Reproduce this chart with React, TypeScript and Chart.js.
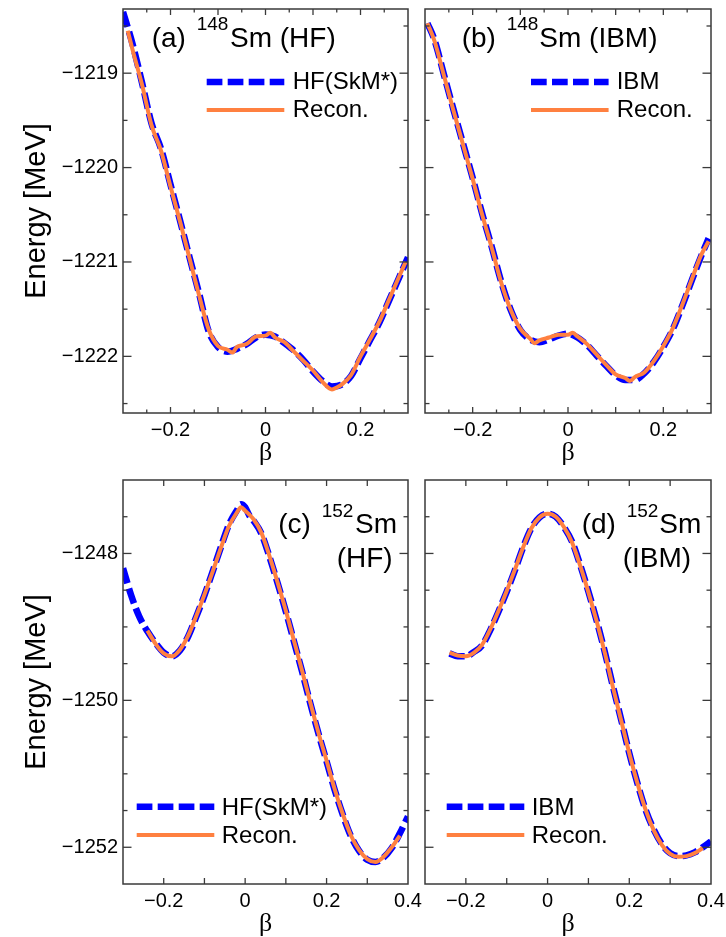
import React, { useEffect, useRef } from "react";
import { Chart, registerables } from "chart.js";
Chart.register(...registerables);

const SANS = '"Liberation Sans", Arial, Helvetica, sans-serif';
const SERIF = '"Liberation Serif", "Times New Roman", serif';
const BLUE = "#0000ff";
const ORANGE = "#ff8040";
const FRAME = "#3a3a3a";
const BLUE_WIDTH = 6.6;
const BLUE_DASH = [15.7, 5.3];
const ORANGE_WIDTH = 4;

// ---------- Panel (a): 148Sm, HF(SkM*) vs Recon. ----------
const betaA_HF = [-0.30, -0.28, -0.26, -0.24, -0.22, -0.20, -0.18, -0.16, -0.14, -0.12, -0.10, -0.08, -0.06, -0.04, -0.02, 0.00, 0.02, 0.04, 0.06, 0.08, 0.10, 0.12, 0.14, 0.16, 0.18, 0.20, 0.22, 0.24, 0.26, 0.28, 0.30];
const energyA_HF = [-1218.35, -1218.69, -1219.10, -1219.53, -1219.80, -1220.18, -1220.56, -1220.95, -1221.33, -1221.73, -1221.90, -1221.95, -1221.92, -1221.87, -1221.80, -1221.77, -1221.79, -1221.86, -1221.94, -1222.04, -1222.16, -1222.26, -1222.32, -1222.30, -1222.21, -1222.02, -1221.83, -1221.64, -1221.41, -1221.18, -1220.95];
const betaA_Rec = [-0.29, -0.28, -0.26, -0.24, -0.22, -0.20, -0.18, -0.16, -0.14, -0.12, -0.10, -0.08, -0.07, -0.06, -0.04, -0.02, 0.00, 0.01, 0.02, 0.04, 0.06, 0.08, 0.10, 0.12, 0.14, 0.15, 0.16, 0.18, 0.20, 0.22, 0.24, 0.26, 0.28, 0.295];
const energyA_Rec = [-1218.55, -1218.75, -1219.12, -1219.55, -1219.82, -1220.20, -1220.57, -1220.96, -1221.35, -1221.71, -1221.89, -1221.93, -1221.96, -1221.90, -1221.87, -1221.79, -1221.78, -1221.75, -1221.80, -1221.85, -1221.95, -1222.05, -1222.15, -1222.27, -1222.35, -1222.33, -1222.30, -1222.20, -1222.00, -1221.82, -1221.63, -1221.40, -1221.17, -1221.00];

// ---------- Panel (b): 148Sm, IBM vs Recon. ----------
const betaB_IBM = [-0.295, -0.28, -0.26, -0.24, -0.22, -0.20, -0.18, -0.16, -0.14, -0.12, -0.10, -0.08, -0.06, -0.04, -0.02, 0.00, 0.02, 0.04, 0.06, 0.08, 0.10, 0.12, 0.14, 0.16, 0.18, 0.20, 0.22, 0.24, 0.26, 0.28, 0.295];
const energyB_IBM = [-1218.47, -1218.65, -1219.02, -1219.39, -1219.75, -1220.11, -1220.49, -1220.84, -1221.21, -1221.51, -1221.72, -1221.82, -1221.85, -1221.82, -1221.78, -1221.76, -1221.80, -1221.88, -1221.99, -1222.10, -1222.20, -1222.25, -1222.25, -1222.18, -1222.06, -1221.90, -1221.71, -1221.46, -1221.19, -1220.93, -1220.75];
const betaB_Rec = [-0.295, -0.28, -0.26, -0.24, -0.22, -0.20, -0.18, -0.16, -0.14, -0.12, -0.10, -0.08, -0.07, -0.06, -0.04, -0.02, 0.00, 0.01, 0.02, 0.04, 0.06, 0.08, 0.10, 0.12, 0.13, 0.14, 0.16, 0.18, 0.20, 0.22, 0.24, 0.26, 0.28, 0.295];
const energyB_Rec = [-1218.47, -1218.66, -1219.03, -1219.40, -1219.76, -1220.12, -1220.50, -1220.85, -1221.22, -1221.51, -1221.71, -1221.81, -1221.86, -1221.83, -1221.80, -1221.77, -1221.77, -1221.75, -1221.79, -1221.87, -1221.98, -1222.09, -1222.19, -1222.23, -1222.26, -1222.22, -1222.17, -1222.05, -1221.89, -1221.70, -1221.45, -1221.18, -1220.92, -1220.78];

// ---------- Panel (c): 152Sm, HF(SkM*) vs Recon. ----------
const betaC_HF = [-0.30, -0.28, -0.26, -0.24, -0.22, -0.20, -0.18, -0.16, -0.14, -0.12, -0.10, -0.08, -0.06, -0.04, -0.02, -0.01, 0.00, 0.01, 0.02, 0.04, 0.06, 0.08, 0.10, 0.12, 0.14, 0.16, 0.18, 0.20, 0.22, 0.24, 0.26, 0.28, 0.30, 0.32, 0.34, 0.36, 0.38, 0.40];
const energyC_HF = [-1248.20, -1248.57, -1248.86, -1249.06, -1249.22, -1249.35, -1249.40, -1249.32, -1249.13, -1248.86, -1248.57, -1248.25, -1247.92, -1247.61, -1247.41, -1247.33, -1247.37, -1247.48, -1247.55, -1247.73, -1248.05, -1248.41, -1248.79, -1249.20, -1249.61, -1250.04, -1250.45, -1250.83, -1251.22, -1251.56, -1251.85, -1252.05, -1252.17, -1252.20, -1252.14, -1252.01, -1251.81, -1251.58];
const betaC_Rec = [-0.24, -0.22, -0.20, -0.18, -0.16, -0.14, -0.12, -0.10, -0.08, -0.06, -0.04, -0.02, -0.01, 0.00, 0.01, 0.02, 0.04, 0.06, 0.08, 0.10, 0.12, 0.14, 0.16, 0.18, 0.20, 0.22, 0.24, 0.26, 0.28, 0.30, 0.32, 0.34, 0.36, 0.38];
const energyC_Rec = [-1249.05, -1249.23, -1249.36, -1249.40, -1249.31, -1249.12, -1248.85, -1248.56, -1248.25, -1247.93, -1247.63, -1247.44, -1247.37, -1247.42, -1247.47, -1247.53, -1247.72, -1248.04, -1248.40, -1248.78, -1249.19, -1249.60, -1250.03, -1250.44, -1250.82, -1251.21, -1251.55, -1251.84, -1252.04, -1252.16, -1252.20, -1252.13, -1252.00, -1251.84];

// ---------- Panel (d): 152Sm, IBM vs Recon. ----------
const betaD_IBM = [-0.24, -0.22, -0.20, -0.18, -0.16, -0.14, -0.12, -0.10, -0.08, -0.06, -0.04, -0.02, 0.00, 0.02, 0.04, 0.06, 0.08, 0.10, 0.12, 0.14, 0.16, 0.18, 0.20, 0.22, 0.24, 0.26, 0.28, 0.30, 0.32, 0.34, 0.36, 0.38, 0.40];
const energyD_IBM = [-1249.36, -1249.40, -1249.40, -1249.34, -1249.25, -1249.04, -1248.79, -1248.52, -1248.23, -1247.92, -1247.66, -1247.51, -1247.46, -1247.50, -1247.64, -1247.84, -1248.16, -1248.52, -1248.91, -1249.34, -1249.81, -1250.26, -1250.72, -1251.13, -1251.49, -1251.76, -1251.96, -1252.08, -1252.12, -1252.11, -1252.07, -1252.00, -1251.92];
const betaD_Rec = [-0.24, -0.22, -0.20, -0.18, -0.16, -0.14, -0.12, -0.10, -0.08, -0.06, -0.04, -0.02, 0.00, 0.02, 0.04, 0.06, 0.08, 0.10, 0.12, 0.14, 0.16, 0.18, 0.20, 0.22, 0.24, 0.26, 0.28, 0.30, 0.32, 0.34, 0.36, 0.38];
const energyD_Rec = [-1249.35, -1249.39, -1249.40, -1249.35, -1249.24, -1249.03, -1248.78, -1248.51, -1248.22, -1247.92, -1247.66, -1247.51, -1247.46, -1247.50, -1247.64, -1247.85, -1248.17, -1248.53, -1248.92, -1249.35, -1249.82, -1250.27, -1250.72, -1251.13, -1251.49, -1251.77, -1251.97, -1252.09, -1252.13, -1252.12, -1252.08, -1252.01];

// ---------- Axis ticks ----------
const xLabelsTop = [-0.2, 0, 0.2];
const xMajorTop = [-0.2, -0.1, 0, 0.1, 0.2];
const xMinorTop = [-0.25, -0.15, -0.05, 0.05, 0.15, 0.25];
const xLabelsBottom = [-0.2, 0, 0.2, 0.4];
const xMajorBottom = [-0.2, -0.1, 0, 0.1, 0.2, 0.3];
const xMinorBottom: number[] = [];
const yLabelsTop = [-1222, -1221, -1220, -1219];
const yMinorTop = [-1222.5, -1221.5, -1220.5, -1219.5, -1218.5];
const yLabelsBottom = [-1252, -1250, -1248];
const yMinorBottom = [-1251.5, -1251, -1250.5, -1249.5, -1249, -1248.5, -1247.5];

function fmt(v: number): string {
  const r = Math.round(v * 1000) / 1000;
  if (r === 0) return "0";
  return r < 0 ? "\u2212" + String(Math.abs(r)) : String(r);
}

type TextItem = { text: string; x: number; y: number; size: number };
type PanelDef = {
  id: string;
  box: { left: number; top: number; width: number; height: number };
  plot: { left: number; top: number; right: number; bottom: number };
  xMin: number; xMax: number; yMin: number; yMax: number;
  xLabels: number[]; xMajor: number[]; xMinor: number[];
  yLabels: number[]; yMinor: number[];
  showY: boolean;
  betaPad: number;
  refLabel: string;
  refBeta: number[]; refEnergy: number[];
  recBeta: number[]; recEnergy: number[];
  legend: { x1: number; x2: number; yRef: number; yRec: number; textX: number; dy: number };
  texts: TextItem[];
};

const panels: PanelDef[] = [
  {
    id: "a",
    box: { left: 0, top: 0, width: 428, height: 472 },
    plot: { left: 123, top: 9, right: 408, bottom: 413 },
    xMin: -0.3, xMax: 0.3, yMin: -1222.6, yMax: -1218.32,
    xLabels: xLabelsTop, xMajor: xMajorTop, xMinor: xMinorTop,
    yLabels: yLabelsTop, yMinor: yMinorTop,
    showY: true, betaPad: 6,
    refLabel: "HF(SkM*)",
    refBeta: betaA_HF, refEnergy: energyA_HF, recBeta: betaA_Rec, recEnergy: energyA_Rec,
    legend: { x1: 206.7, x2: 284.3, yRef: 82, yRec: 110, textX: 292.7, dy: 7.2 },
    texts: [
      { text: "(a)", x: 151.7, y: 46.7, size: 28 },
      { text: "148", x: 196.7, y: 30.3, size: 19 },
      { text: "Sm (HF)", x: 230, y: 46.7, size: 28 },
    ],
  },
  {
    id: "b",
    box: { left: 415, top: 0, width: 311, height: 472 },
    plot: { left: 425, top: 9, right: 711, bottom: 413 },
    xMin: -0.3, xMax: 0.3, yMin: -1222.6, yMax: -1218.32,
    xLabels: xLabelsTop, xMajor: xMajorTop, xMinor: xMinorTop,
    yLabels: yLabelsTop, yMinor: yMinorTop,
    showY: false, betaPad: 6,
    refLabel: "IBM",
    refBeta: betaB_IBM, refEnergy: energyB_IBM, recBeta: betaB_Rec, recEnergy: energyB_Rec,
    legend: { x1: 531, x2: 608.6, yRef: 82, yRec: 110, textX: 616.7, dy: 7.2 },
    texts: [
      { text: "(b)", x: 461.7, y: 46.7, size: 28 },
      { text: "148", x: 506.7, y: 30.3, size: 19 },
      { text: "Sm (IBM)", x: 539.3, y: 46.7, size: 28 },
    ],
  },
  {
    id: "c",
    box: { left: 0, top: 470, width: 428, height: 467 },
    plot: { left: 123, top: 480, right: 408, bottom: 884 },
    xMin: -0.3, xMax: 0.4, yMin: -1252.5, yMax: -1247.0,
    xLabels: xLabelsBottom, xMajor: xMajorBottom, xMinor: xMinorBottom,
    yLabels: yLabelsBottom, yMinor: yMinorBottom,
    showY: true, betaPad: 0,
    refLabel: "HF(SkM*)",
    refBeta: betaC_HF, refEnergy: energyC_HF, recBeta: betaC_Rec, recEnergy: energyC_Rec,
    legend: { x1: 136.7, x2: 214.3, yRef: 806.7, yRec: 835, textX: 221.7, dy: 8.2 },
    texts: [
      { text: "(c)", x: 278.3, y: 533.3, size: 28 },
      { text: "152", x: 321.7, y: 517, size: 19 },
      { text: "Sm", x: 355, y: 533.3, size: 28 },
      { text: "(HF)", x: 336.7, y: 566.7, size: 28 },
    ],
  },
  {
    id: "d",
    box: { left: 415, top: 470, width: 311, height: 467 },
    plot: { left: 425, top: 480, right: 711, bottom: 884 },
    xMin: -0.3, xMax: 0.4, yMin: -1252.5, yMax: -1247.0,
    xLabels: xLabelsBottom, xMajor: xMajorBottom, xMinor: xMinorBottom,
    yLabels: yLabelsBottom, yMinor: yMinorBottom,
    showY: false, betaPad: 0,
    refLabel: "IBM",
    refBeta: betaD_IBM, refEnergy: energyD_IBM, recBeta: betaD_Rec, recEnergy: energyD_Rec,
    legend: { x1: 446.7, x2: 524.3, yRef: 806.7, yRec: 835, textX: 531.7, dy: 8.2 },
    texts: [
      { text: "(d)", x: 581.7, y: 533.3, size: 28 },
      { text: "152", x: 626.7, y: 517, size: 19 },
      { text: "Sm", x: 659.3, y: 533.3, size: 28 },
      { text: "(IBM)", x: 622.7, y: 566.7, size: 28 },
    ],
  },
];

function Panel({ p }: { p: PanelDef }) {
  const ref = useRef<HTMLCanvasElement>(null);
  useEffect(() => {
    const canvas = ref.current;
    if (!canvas) return;
    const { box, plot } = p;

    const decor = {
      id: "decor_" + p.id,
      afterDraw(chart: any) {
        const { ctx, chartArea: ca, scales } = chart;
        const xs = scales.x;
        const ys = scales.y;
        ctx.save();
        ctx.strokeStyle = FRAME;
        ctx.lineWidth = 1.3;
        ctx.setLineDash([]);
        const seg = (x1: number, y1: number, x2: number, y2: number) => {
          ctx.beginPath();
          ctx.moveTo(x1, y1);
          ctx.lineTo(x2, y2);
          ctx.stroke();
        };
        const xt = (vals: number[], len: number) => {
          vals.forEach((v) => {
            const px = xs.getPixelForValue(v);
            seg(px, ca.bottom, px, ca.bottom - len);
            seg(px, ca.top, px, ca.top + len);
          });
        };
        const yt = (vals: number[], len: number) => {
          vals.forEach((v) => {
            const py = ys.getPixelForValue(v);
            seg(ca.left, py, ca.left + len, py);
            seg(ca.right, py, ca.right - len, py);
          });
        };
        xt(p.xMajor, 6);
        xt(p.xMinor, 3.5);
        yt(p.yLabels, 8.5);
        yt(p.yMinor, 4.5);
        ctx.lineWidth = 1.5;
        ctx.strokeRect(ca.left, ca.top, ca.right - ca.left, ca.bottom - ca.top);

        // legend
        const lg = p.legend;
        const ox = box.left;
        const oy = box.top;
        ctx.lineCap = "butt";
        ctx.strokeStyle = BLUE;
        ctx.lineWidth = BLUE_WIDTH;
        ctx.setLineDash(BLUE_DASH);
        seg(lg.x1 - ox, lg.yRef - oy, lg.x2 - ox, lg.yRef - oy);
        ctx.setLineDash([]);
        ctx.strokeStyle = ORANGE;
        ctx.lineWidth = ORANGE_WIDTH;
        seg(lg.x1 - ox, lg.yRec - oy, lg.x2 - ox, lg.yRec - oy);
        ctx.fillStyle = "#000";
        ctx.textAlign = "left";
        ctx.textBaseline = "alphabetic";
        ctx.font = `24px ${SANS}`;
        ctx.fillText(p.refLabel, lg.textX - ox, lg.yRef + lg.dy - oy);
        ctx.fillText("Recon.", lg.textX - ox, lg.yRec + lg.dy - oy);

        // panel title
        p.texts.forEach((t) => {
          ctx.font = `${t.size}px ${SANS}`;
          ctx.fillText(t.text, t.x - ox, t.y - oy);
        });
        ctx.restore();
      },
    };

    const chart = new Chart(canvas, {
      type: "line",
      data: {
        datasets: [
          {
            label: "Recon.",
            data: p.recBeta.map((b, i) => ({ x: b, y: p.recEnergy[i] })),
            borderColor: ORANGE,
            backgroundColor: ORANGE,
            borderWidth: ORANGE_WIDTH,
            pointRadius: 0,
            cubicInterpolationMode: "monotone",
            fill: false,
            order: 1,
          },
          {
            label: p.refLabel,
            data: p.refBeta.map((b, i) => ({ x: b, y: p.refEnergy[i] })),
            borderColor: BLUE,
            backgroundColor: BLUE,
            borderWidth: BLUE_WIDTH,
            borderDash: BLUE_DASH,
            pointRadius: 0,
            cubicInterpolationMode: "monotone",
            fill: false,
            order: 2,
          },
        ],
      },
      options: {
        animation: false,
        responsive: false,
        maintainAspectRatio: false,
        devicePixelRatio: 1,
        events: [],
        layout: {
          padding: {
            left: 0,
            top: plot.top - box.top,
            right: box.left + box.width - plot.right,
            bottom: 0,
          },
        },
        plugins: { legend: { display: false }, tooltip: { enabled: false } },
        scales: {
          x: {
            type: "linear",
            position: "bottom",
            min: p.xMin,
            max: p.xMax,
            grid: { display: false, drawTicks: false },
            border: { display: false },
            afterBuildTicks: (s: any) => {
              s.ticks = p.xLabels.map((v) => ({ value: v }));
            },
            afterFit: (s: any) => {
              s.height = box.top + box.height - plot.bottom;
              s.paddingLeft = 0;
              s.paddingRight = 0;
            },
            ticks: {
              autoSkip: false,
              maxRotation: 0,
              padding: 5,
              color: "#000",
              font: { family: SANS, size: 20 },
              callback: (v: any) => fmt(Number(v)),
            },
            title: {
              display: true,
              text: "β",
              color: "#000",
              font: { family: SERIF, size: 26, lineHeight: 1 },
              padding: { top: 0, bottom: p.betaPad },
            },
          },
          y: {
            type: "linear",
            position: "left",
            min: p.yMin,
            max: p.yMax,
            grid: { display: false, drawTicks: false },
            border: { display: false },
            afterBuildTicks: (s: any) => {
              s.ticks = p.yLabels.map((v) => ({ value: v }));
            },
            afterFit: (s: any) => {
              s.width = plot.left - box.left;
              s.paddingTop = 0;
              s.paddingBottom = 0;
            },
            ticks: {
              display: p.showY,
              padding: 5,
              color: "#000",
              font: { family: SANS, size: 20 },
              callback: (v: any) => fmt(Number(v)),
            },
            title: {
              display: p.showY,
              text: "Energy [MeV]",
              color: "#000",
              font: { family: SANS, size: 29, lineHeight: 1.2 },
              padding: { top: 19.6, bottom: 0 },
            },
          },
        },
      } as any,
      plugins: [decor],
    });
    return () => chart.destroy();
  }, [p]);

  return (
    <canvas
      ref={ref}
      width={p.box.width}
      height={p.box.height}
      style={{
        position: "absolute",
        left: p.box.left,
        top: p.box.top,
        width: p.box.width,
        height: p.box.height,
      }}
    />
  );
}

export default function App() {
  return (
    <div
      style={{
        position: "fixed",
        left: 0,
        top: 0,
        width: 726,
        height: 937,
        overflow: "hidden",
        background: "#fff",
      }}
    >
      {panels.map((p) => (
        <Panel key={p.id} p={p} />
      ))}
    </div>
  );
}
